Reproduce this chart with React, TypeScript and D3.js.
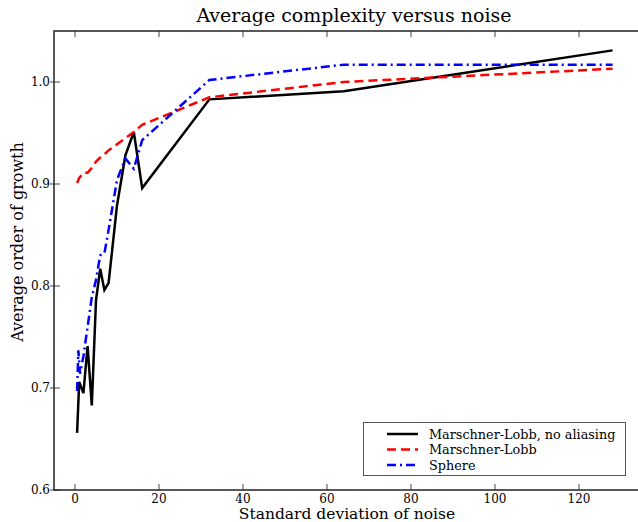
import React from "react";
import * as d3 from "d3";

const title = "Average complexity versus noise";
const xLabel = "Standard deviation of noise";
const yLabel = "Average order of growth";

const xTicks = [0, 20, 40, 60, 80, 100, 120];
const yTicks = [0.6, 0.7, 0.8, 0.9, 1.0];

const mlNoAliasX = [0.5, 1, 2, 3, 4, 5, 6, 7, 8, 10, 12, 14, 16, 32, 64, 128];
const mlNoAliasY = [0.656, 0.706, 0.695, 0.741, 0.683, 0.786, 0.817, 0.796, 0.803, 0.879, 0.928, 0.951, 0.896, 0.983, 0.991, 1.031];

const mlX = [0.5, 1, 2, 3, 4, 5, 6, 7, 8, 10, 12, 14, 16, 32, 64, 128];
const mlY = [0.901, 0.906, 0.911, 0.911, 0.916, 0.922, 0.926, 0.929, 0.933, 0.939, 0.945, 0.951, 0.958, 0.985, 1.0, 1.013];

const sphereX = [0.5, 0.8, 1.2, 2, 3, 4, 5, 6, 7, 8, 10, 12, 14, 16, 32, 64, 128];
const sphereY = [0.697, 0.737, 0.714, 0.731, 0.76, 0.789, 0.806, 0.83, 0.832, 0.855, 0.904, 0.925, 0.915, 0.943, 1.002, 1.017, 1.017];

const seriesNames = ["Marschner-Lobb, no aliasing", "Marschner-Lobb", "Sphere"];
const seriesColors = ["#000000", "#ff0000", "#0000ff"];
const seriesDash = ["none", "9,5", "9,4,2,4"];

const W = 638;
const H = 522;
const FONT = "'DejaVu Serif', serif";

export default function App() {
  const x = d3.scaleLinear().domain([-5, 138]).range([54, 654.6]);
  const y = d3.scaleLinear().domain([0.6, 1.05]).range([490, 31]);
  const line = d3
    .line<[number, number]>()
    .x((d) => x(d[0]))
    .y((d) => y(d[1]));

  const series = [
    d3.zip(mlNoAliasX, mlNoAliasY) as [number, number][],
    d3.zip(mlX, mlY) as [number, number][],
    d3.zip(sphereX, sphereY) as [number, number][],
  ];

  const [x0, x1] = x.range();
  const [yb, yt] = y.range();

  return (
    <svg
      width={W}
      height={H}
      style={{ position: "fixed", left: 0, top: 0, background: "#fff" }}
      fontFamily={FONT}
    >
      <rect x={0} y={0} width={W} height={H} fill="#fff" />
      <defs>
        <clipPath id="plot">
          <rect x={x0} y={yt} width={x1 - x0} height={yb - yt} />
        </clipPath>
      </defs>
      <g clipPath="url(#plot)">
        {series.map((s, i) => (
          <path
            key={i}
            d={line(s) || ""}
            fill="none"
            stroke={seriesColors[i]}
            strokeWidth={2.5}
            strokeDasharray={seriesDash[i]}
            strokeLinejoin="miter"
          />
        ))}
      </g>
      {/* ticks */}
      {xTicks.map((t) => (
        <g key={"xt" + t}>
          <line x1={x(t)} x2={x(t)} y1={yb} y2={yb - 6} stroke="#444" strokeWidth={1} />
          <line x1={x(t)} x2={x(t)} y1={yt} y2={yt + 6} stroke="#444" strokeWidth={1} />
          <text x={x(t)} y={yb + 13} textAnchor="middle" fontSize={12} fill="#000">
            {t}
          </text>
        </g>
      ))}
      {yTicks.map((t) => (
        <g key={"yt" + t}>
          <line x1={x0 - 4} x2={x0 + 6} y1={y(t)} y2={y(t)} stroke="#444" strokeWidth={1} />
          <text x={x0 - 4} y={y(t) + 4} textAnchor="end" fontSize={12} fill="#000">
            {t.toFixed(1)}
          </text>
        </g>
      ))}
      {/* frame */}
      <rect x={x0} y={yt} width={x1 - x0} height={yb - yt} fill="none" stroke="#222" strokeWidth={1.5} />
      {/* legend */}
      <g>
        <rect x={363.5} y={422.5} width={262} height={53} fill="#fff" stroke="#555" strokeWidth={1} />
        {seriesNames.map((n, i) => (
          <g key={n}>
            <line
              x1={387}
              x2={418}
              y1={434 + i * 15.5}
              y2={434 + i * 15.5}
              stroke={seriesColors[i]}
              strokeWidth={2.5}
              strokeDasharray={seriesDash[i]}
            />
            <text x={429} y={434 + i * 15.5 + 4.5} fontSize={12.8} fill="#000">
              {n}
            </text>
          </g>
        ))}
      </g>
      {/* labels */}
      <text x={354} y={22} textAnchor="middle" fontSize={19} fill="#000">
        {title}
      </text>
      <text x={347} y={519} textAnchor="middle" fontSize={15.5} fill="#000">
        {xLabel}
      </text>
      <text
        transform={`translate(23, 242) rotate(-90)`}
        textAnchor="middle"
        fontSize={16}
        fill="#000"
      >
        {yLabel}
      </text>
    </svg>
  );
}
